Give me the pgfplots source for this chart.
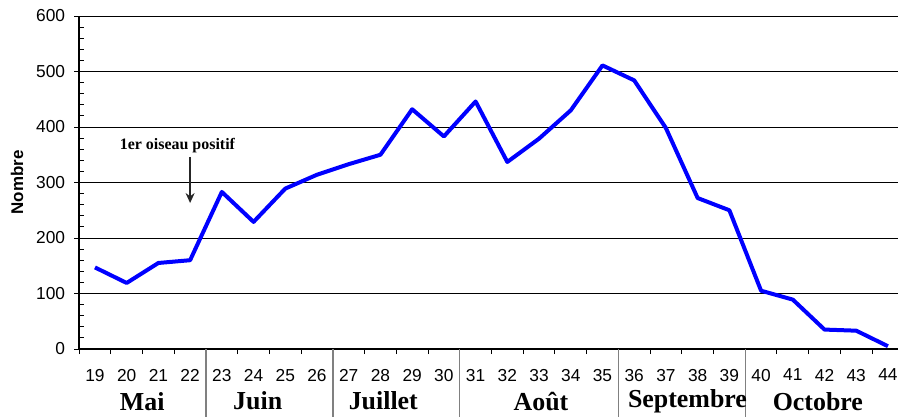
\documentclass[border=0pt]{standalone}
\usepackage{pgfplots}
\pgfplotsset{compat=1.18}
\usetikzlibrary{arrows.meta}
\usepackage{fontspec}
\setmainfont{Liberation Sans}
\newfontfamily\seriffont{Liberation Serif}
\definecolor{lineblue}{RGB}{0,0,255}
\begin{document}
\begin{tikzpicture}
\begin{axis}[
  at={(0,0)}, anchor=south west,
  x=15.86bp, y=0.2775bp,
  xmin=18.5, xmax=44.32, ymin=0, ymax=600,
  axis lines*=left,
  axis line style={line width=0.6bp, black},
  ymajorgrids, grid style={line width=0.5bp, black},
  ytick={0,100,...,600},
  minor y tick num=4,
  xtick={19,...,44},
  minor xtick={18.5,19.5,...,43.5},
  tick align=outside,
  major tick length=2.5bp,
  minor tick length=2.5bp,
  major x tick style={draw=none},
  minor y tick style={xshift=2.5bp},
  tick style={black, line width=0.5bp},
  ticklabel style={font=\fontsize{8.7}{10}\selectfont},
  /pgf/number format/assume math mode=true,
  xticklabel style={yshift=-4bp},
  yticklabel style={xshift=-1bp},
  ylabel={\bfseries Nombre},
  ylabel style={font=\fontsize{8.5}{10}\selectfont, at={(axis description cs:-0.0757,0.5)}, anchor=center},
  clip=false,
]
\addplot[lineblue, line width=2bp, line join=round] table {
x y
19 147
20 119
21 155
22 160
23 283
24 229
25 289
26 314
27 333
28 350
29 432
30 383
31 446
32 337
33 379
34 430
35 511
36 484
37 398
38 272
39 250
40 105
41 89
42 35
43 33
44 5
};
\foreach \s in {22.5,26.5,30.5,35.5,39.5}{
  \edef\tmp{\noexpand\draw[gray, line width=0.7bp] (axis cs:\s,0) -- (axis cs:\s,-125);}
  \tmp
}
\node[font=\seriffont\bfseries\fontsize{13}{15}\selectfont] at (axis cs:20.49,-94) {Mai};
\node[font=\seriffont\bfseries\fontsize{13}{15}\selectfont] at (axis cs:24.13,-94) {Juin};
\node[font=\seriffont\bfseries\fontsize{13}{15}\selectfont] at (axis cs:28.09,-94) {Juillet};
\node[font=\seriffont\bfseries\fontsize{13}{15}\selectfont] at (axis cs:33.06,-94) {Août};
\node[font=\seriffont\bfseries\fontsize{13}{15}\selectfont] at (axis cs:37.68,-94) {Septembre};
\node[font=\seriffont\bfseries\fontsize{13}{15}\selectfont] at (axis cs:41.79,-94) {Octobre};
\node[font=\seriffont\bfseries\fontsize{8}{10}\selectfont] at (axis cs:21.6,366) {1er oiseau positif};
\draw[-{Stealth[length=5bp,width=4.5bp]}, line width=0.7bp, black!85] (axis cs:22,346) -- (axis cs:22,263);
\end{axis}
\pgfresetboundingbox
\path[use as bounding box] (-39.55bp,-34bp) rectangle (409.45bp,174.5bp);
\end{tikzpicture}
\end{document}
